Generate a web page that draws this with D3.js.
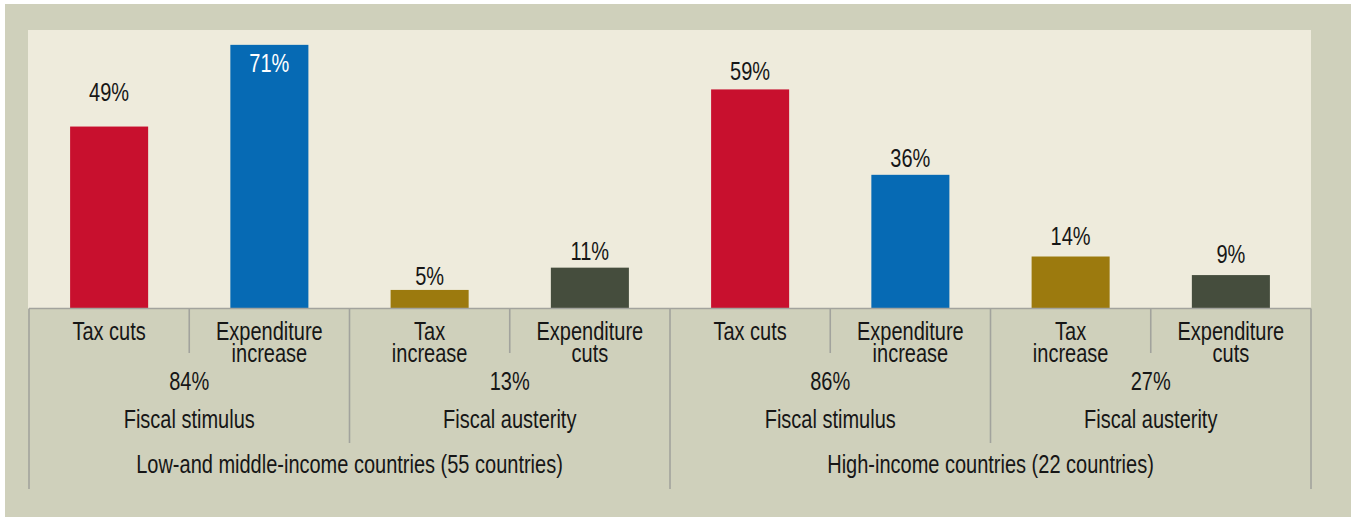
<!DOCTYPE html>
<html>
<head>
<meta charset="utf-8">
<script src="https://cdn.jsdelivr.net/npm/d3@7"></script>
<style>
  html, body { margin: 0; padding: 0; background: #ffffff; }
  svg { display: block; }
  text { font-family: "Liberation Sans", Arial, sans-serif; fill: #161616; }
</style>
</head>
<body>
<svg id="chart" width="1351" height="518"></svg>
<script>
// ---- data ----
const categories = ["Tax cuts", "Expenditure\nincrease", "Tax\nincrease", "Expenditure\ncuts",
                    "Tax cuts", "Expenditure\nincrease", "Tax\nincrease", "Expenditure\ncuts"];
const values = [49, 71, 5, 11, 59, 36, 14, 9];
const policyGroups = ["Fiscal stimulus", "Fiscal austerity", "Fiscal stimulus", "Fiscal austerity"];
const policyShares = [84, 13, 86, 27];
const incomeGroups = ["Low-and middle-income countries (55 countries)", "High-income countries (22 countries)"];

// ---- styles ----
const barColors = ["#c8102e", "#066ab4", "#9c7a0e", "#454d3d"];
const labelGap = [26, -27, 5, 8, 9, 8, 12, 12]; // label baseline distance above bar top (negative = inside)
const lineColor = "#a2a39d";
const FS = 25, SX = 0.8;

const svg = d3.select("#chart");
svg.append("rect").attr("x", 5).attr("y", 4).attr("width", 1346).attr("height", 513).attr("fill", "#cfd0bb");
svg.append("rect").attr("x", 28).attr("y", 30).attr("width", 1283).attr("height", 279).attr("fill", "#eeebdc");

// condensed text helper
function addText(parent, cx, cy, lines, fill) {
  const t = parent.append("text")
    .attr("transform", `translate(${cx},${cy}) scale(${SX},1)`)
    .attr("text-anchor", "middle").attr("font-size", FS);
  if (fill) t.style("fill", fill);
  lines.forEach((l, k) => t.append("tspan").attr("x", 0).attr("dy", k === 0 ? 0 : 22.5).text(l));
  return t;
}

const x0 = 29, x1 = 1311, yBase = 308.5;
const idx = d3.range(values.length);
const x = d3.scaleBand().domain(idx).range([x0, x1]).paddingInner(0.513).paddingOuter(0.2565);
const y = d3.scaleLinear().domain([0, 75]).range([yBase, 30]);

// bars
svg.append("g").selectAll("rect").data(idx).join("rect")
  .attr("x", i => x(i))
  .attr("y", i => y(values[i]))
  .attr("width", x.bandwidth())
  .attr("height", i => y(0) - y(values[i]))
  .attr("fill", i => barColors[i % 4]);

// value labels
const vl = svg.append("g");
idx.forEach(i => addText(vl, x(i) + x.bandwidth() / 2, y(values[i]) - labelGap[i],
  [values[i] + "%"], labelGap[i] < 0 ? "#ffffff" : null));

// hierarchy axis lines
const step = x.step();
const g = svg.append("g").attr("stroke", lineColor).attr("stroke-width", 1.6).attr("fill", "none");
g.append("line").attr("x1", x0).attr("x2", x1).attr("y1", yBase).attr("y2", yBase);
idx.forEach(i => {
  if (i === 0) return;
  const xx = x0 + i * step;
  const yEnd = i % 4 === 0 ? 489 : (i % 2 === 0 ? 443 : 353);
  g.append("line").attr("x1", xx).attr("x2", xx).attr("y1", yBase).attr("y2", yEnd);
});
[x0, x1].forEach(xx => g.append("line").attr("x1", xx).attr("x2", xx).attr("y1", yBase).attr("y2", 489));

// category labels
const catG = svg.append("g");
idx.forEach(i => addText(catG, x0 + (i + 0.5) * step, 340, categories[i].split("\n")));

// policy groups
const pg = svg.append("g");
policyGroups.forEach((p, j) => {
  const cx = x0 + (j + 0.5) * 2 * step;
  addText(pg, cx, 390, [policyShares[j] + "%"]);
  addText(pg, cx, 428, [p]);
});

// income groups
const ig = svg.append("g");
incomeGroups.forEach((n, k) => addText(ig, x0 + (k + 0.5) * 4 * step, 473, [n]));
</script>
</body>
</html>
